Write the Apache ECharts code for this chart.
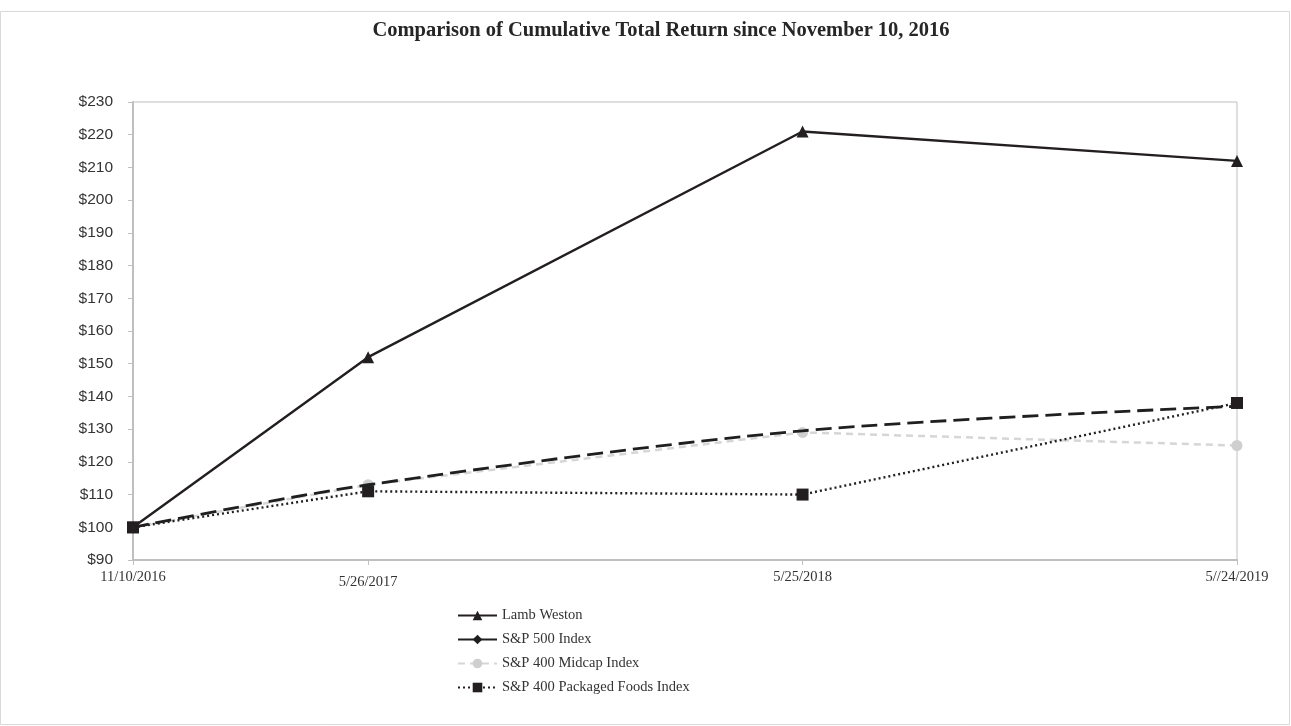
<!DOCTYPE html>
<html>
<head>
<meta charset="utf-8">
<script src="https://cdn.jsdelivr.net/npm/echarts@6/dist/echarts.min.js"></script>
<style>
  html, body { margin: 0; padding: 0; background: #fff; }
  #chart { width: 1291px; height: 726px; }
</style>
</head>
<body>
<div id="chart"></div>
<script>
// dates of the data points and the labels printed under them
const dates = ["2016-11-10", "2017-05-26", "2018-05-25", "2019-05-24"];
const dateLabels = ["11/10/2016", "5/26/2017", "5/25/2018", "5//24/2019"];

const lambWeston = [100, 152, 221, 212];
const sp500 = [100, 113, 129.5, 137];
const sp400Midcap = [100, 113, 129, 125];
const sp400Foods = [100, 111, 110, 138];

const seriesNames = ["Lamb Weston", "S&P 500 Index", "S&P 400 Midcap Index", "S&P 400 Packaged Foods Index"];

// x axis is in days since the first date
const dayMs = 24 * 3600 * 1000;
const start = Date.parse(dates[0]);
const days = dates.map((d) => Math.round((Date.parse(d) - start) / dayMs));
const toPoints = (vals) => vals.map((v, i) => [days[i], v]);

const chart = echarts.init(document.getElementById("chart"));

const option = {
  animation: false,
  backgroundColor: "#fff",
  graphic: [
    {
      type: "rect",
      shape: { x: 0.5, y: 11.5, width: 1289, height: 713 },
      style: { fill: "none", stroke: "#d9d9d9", lineWidth: 1 },
      silent: true,
    },
  ],
  title: {
    text: "Comparison of Cumulative Total Return since November 10, 2016",
    left: 656,
    textAlign: "center",
    top: 15,
    textStyle: {
      fontFamily: "Liberation Serif",
      fontWeight: "bold",
      fontSize: 20.5,
      color: "#262626",
    },
  },
  grid: {
    left: 133,
    right: 54,
    top: 102,
    bottom: 166,
    show: true,
    borderColor: "#bfbfbf",
    borderWidth: 1,
  },
  legend: {
    orient: "vertical",
    left: 452,
    top: 603,
    itemWidth: 39,
    itemHeight: 12,
    itemGap: 9,
    textStyle: {
      fontFamily: "Liberation Serif",
      fontSize: 14.5,
      lineHeight: 15,
      color: "#333",
    },
    data: [
      { name: seriesNames[0] },
      { name: seriesNames[1], lineStyle: { type: "solid" } },
      { name: seriesNames[2] },
      { name: seriesNames[3] },
    ],
  },
  xAxis: {
    type: "value",
    min: 0,
    max: days[days.length - 1],
    splitLine: { show: false },
    axisLine: { lineStyle: { color: "#bfbfbf", width: 2 } },
    axisTick: {
      customValues: days,
      length: 5,
      lineStyle: { color: "#bfbfbf" },
    },
    axisLabel: {
      customValues: days,
      margin: 10,
      fontFamily: "Liberation Serif",
      fontSize: 14.5,
      color: "#333",
      formatter: (v) => {
        const i = days.indexOf(v);
        return i === 1 ? "{low|" + dateLabels[i] + "}" : dateLabels[i];
      },
      rich: {
        low: {
          fontFamily: "Liberation Serif",
          fontSize: 14.5,
          color: "#333",
          padding: [5, 0, 0, 0],
        },
      },
    },
  },
  yAxis: {
    type: "value",
    min: 90,
    max: 230,
    interval: 10,
    splitLine: { show: false },
    axisLine: { show: true, lineStyle: { color: "#bfbfbf", width: 2 } },
    axisTick: { show: true, length: 5, lineStyle: { color: "#bfbfbf" } },
    axisLabel: {
      margin: 20,
      fontFamily: "Liberation Sans",
      fontSize: 15.5,
      color: "#333",
      formatter: (v) => "$" + v,
    },
  },
  series: [
    {
      name: seriesNames[2],
      type: "line",
      data: toPoints(sp400Midcap),
      symbol: "circle",
      symbolSize: 11,
      itemStyle: { color: "#cfcfcf" },
      lineStyle: { color: "#d6d6d6", width: 2.5, type: [7, 5] },
      z: 1,
    },
    {
      name: seriesNames[1],
      type: "line",
      data: toPoints(sp500),
      smooth: 0.3,
      symbol: "diamond",
      symbolSize: 8,
      showSymbol: false,
      itemStyle: { color: "#1f1f1f" },
      lineStyle: { color: "#1f1f1f", width: 2.8, type: [16, 7] },
      z: 2,
    },
    {
      name: seriesNames[3],
      type: "line",
      data: toPoints(sp400Foods),
      symbol: "rect",
      symbolSize: 12,
      itemStyle: { color: "#231f20" },
      lineStyle: { color: "#231f20", width: 2.4, type: [2, 3] },
      z: 3,
    },
    {
      name: seriesNames[0],
      type: "line",
      data: toPoints(lambWeston),
      symbol: "triangle",
      symbolSize: 12,
      itemStyle: { color: "#231f20" },
      lineStyle: { color: "#231f20", width: 2.4 },
      z: 4,
    },
  ],
};

chart.setOption(option);
</script>
</body>
</html>
